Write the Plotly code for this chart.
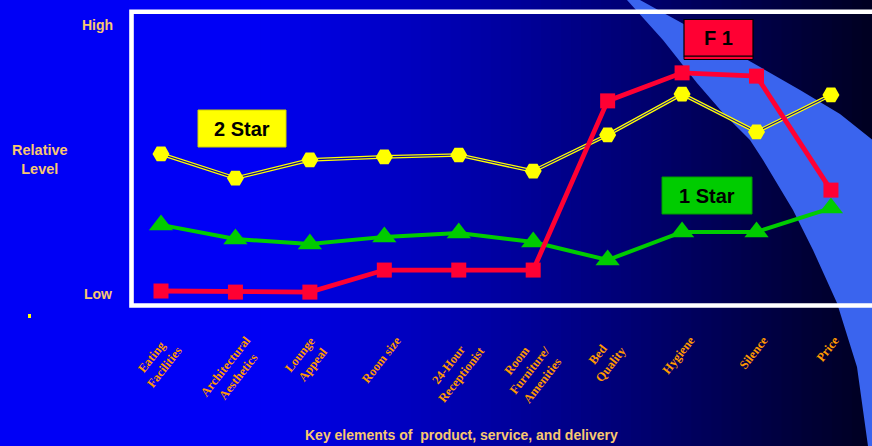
import plotly.graph_objects as go

# ---------------- data ----------------
categories = ["Eating<br>Facilities", "Architectural<br>Aesthetics", "Lounge<br>Appeal",
              "Room size", "24-Hour<br>Receptionist", "Room<br>Furniture/<br>Amenities",
              "Bed<br>Quality", "Hygiene", "Silence", "Price"]
star2 = [5.15, 4.26, 4.93, 5.04, 5.11, 4.52, 5.85, 7.35, 5.96, 7.32]
star1 = [2.54, 2.02, 1.84, 2.10, 2.24, 1.91, 1.25, 2.28, 2.28, 3.16]
f1 = [0.11, 0.07, 0.07, 0.88, 0.88, 0.88, 7.10, 8.13, 8.01, 3.82]
y_labels = ["High", "Relative<br>Level", "Low"]
x_title = "Key elements of  product, service, and delivery"

W, H = 872, 446
X0, DX = 161.0, 74.44      # pixel of first category, spacing
Y0, DY = 294.0, 27.2       # pixel of value 0, pixels per unit

def px(x):
    return x / W

def py(y):
    return 1 - y / H

xs = list(range(len(categories)))

fig = go.Figure()

# ---------------- background ----------------
shapes = []
shapes.append(dict(type="rect", xref="paper", yref="paper", x0=0, x1=px(250), y0=0, y1=1,
                   fillcolor="#0000f6", line_width=0, layer="below"))
n = 62
for k in range(n):
    a = 250 + (W - 250) * k / n
    b = 250 + (W - 250) * (k + 1) / n + 0.8
    t = (k + 0.5) / n
    blue = int(round(246 - 214 * t))
    shapes.append(dict(type="rect", xref="paper", yref="paper", x0=px(a), x1=px(b), y0=0, y1=1,
                       fillcolor="rgb(0,0,%d)" % blue, line_width=0, layer="below"))

left_curve = [(627, 0), (663, 40), (697, 83), (723, 113), (750, 140), (763, 160), (793, 210),
              (813, 250), (837, 303), (857, 367), (868, 446)]
right_curve = [(874, 446), (874, 141), (840, 114), (800, 90), (753, 63), (700, 33), (640, 0)]
pts = left_curve + right_curve
path = "M " + " L ".join("%.5f,%.5f" % (px(x), py(y)) for x, y in pts) + " Z"
shapes.append(dict(type="path", xref="paper", yref="paper", path=path,
                   fillcolor="#3a64ee", line_width=0, layer="below"))

# white frame
shapes.append(dict(type="rect", xref="paper", yref="paper", x0=px(131.5), x1=px(890),
                   y0=py(305.5), y1=py(11.7), line=dict(color="white", width=4.6),
                   fillcolor="rgba(0,0,0,0)", layer="below"))
# tiny yellow mark
shapes.append(dict(type="rect", xref="paper", yref="paper", x0=px(28), x1=px(31),
                   y0=py(318), y1=py(314), fillcolor="#ffff00", line_width=0, layer="below"))

# legend boxes
shapes.append(dict(type="rect", xref="paper", yref="paper", x0=px(198), x1=px(286),
                   y0=py(147), y1=py(110), fillcolor="#ffff00", line=dict(color="#d0d000", width=1)))
shapes.append(dict(type="rect", xref="paper", yref="paper", x0=px(662), x1=px(752),
                   y0=py(214), y1=py(177), fillcolor="#00cc00", line=dict(color="#009900", width=1)))
shapes.append(dict(type="rect", xref="paper", yref="paper", x0=px(684), x1=px(753),
                   y0=py(59.5), y1=py(56), fillcolor="#ff0033", line=dict(color="black", width=1)))
shapes.append(dict(type="rect", xref="paper", yref="paper", x0=px(684), x1=px(753),
                   y0=py(56), y1=py(19.5), fillcolor="#ff0033", line=dict(color="black", width=1.2)))

# ---------------- series ----------------
fig.add_trace(go.Scatter(x=xs, y=star2, mode="lines", line=dict(color="#ffff00", width=3.6),
                         hoverinfo="skip", showlegend=False))
fig.add_trace(go.Scatter(x=xs, y=star2, mode="lines+markers", line=dict(color="#0a0a9a", width=1.1),
                         marker=dict(symbol="hexagon2", size=17, color="#ffff00", line_width=0),
                         name="2 Star", showlegend=False))
fig.add_trace(go.Scatter(x=xs, y=star1, mode="lines+markers", line=dict(color="#00cc00", width=4),
                         marker=dict(symbol="triangle-up", size=21, color="#00cc00", line_width=0),
                         name="1 Star", showlegend=False))
fig.add_trace(go.Scatter(x=xs, y=f1, mode="lines+markers", line=dict(color="#ff0033", width=4.8),
                         marker=dict(symbol="square", size=15, color="#ff0033", line_width=0),
                         name="F 1", showlegend=False))

# ---------------- text ----------------
lab_color = "#f8c870"
ann = []
ann.append(dict(x=px(115), y=py(25), xref="paper", yref="paper", xanchor="right", yanchor="middle",
                text="<b>%s</b>" % y_labels[0], showarrow=False,
                font=dict(family="Liberation Sans", size=14, color=lab_color)))
ann.append(dict(x=px(40), y=py(159), xref="paper", yref="paper", xanchor="center", yanchor="middle",
                text="<b>%s</b>" % y_labels[1], showarrow=False, align="center",
                font=dict(family="Liberation Sans", size=14.5, color=lab_color)))
ann.append(dict(x=px(114), y=py(294), xref="paper", yref="paper", xanchor="right", yanchor="middle",
                text="<b>%s</b>" % y_labels[2], showarrow=False,
                font=dict(family="Liberation Sans", size=14, color=lab_color)))
ann.append(dict(x=px(303), y=py(435), xref="paper", yref="paper", xanchor="left", yanchor="middle",
                text="<b>%s</b>" % x_title, showarrow=False,
                font=dict(family="Liberation Sans", size=14, color=lab_color)))
for i, c in enumerate(categories):
    ann.append(dict(x=i, y=py(331), xref="x", yref="paper", xanchor="center", yanchor="top",
                    xshift=-3, text="<b>%s</b>" % c, showarrow=False, textangle=-52, align="center",
                    font=dict(family="Liberation Serif", size=12.5, color="#ff9900")))
ann.append(dict(x=px(242), y=py(129), xref="paper", yref="paper", xanchor="center", yanchor="middle",
                text="<b>2 Star</b>", showarrow=False,
                font=dict(family="Liberation Sans", size=20, color="black")))
ann.append(dict(x=px(707), y=py(196), xref="paper", yref="paper", xanchor="center", yanchor="middle",
                text="<b>1 Star</b>", showarrow=False,
                font=dict(family="Liberation Sans", size=20, color="black")))
ann.append(dict(x=px(718.5), y=py(38), xref="paper", yref="paper", xanchor="center", yanchor="middle",
                text="<b>F 1</b>", showarrow=False,
                font=dict(family="Liberation Sans", size=20, color="black")))

fig.update_layout(
    width=W, height=H, margin=dict(l=0, r=0, t=0, b=0, pad=0),
    paper_bgcolor="#000080", plot_bgcolor="rgba(0,0,0,0)",
    xaxis=dict(range=[-X0 / DX, (W - X0) / DX], domain=[0, 1], visible=False, fixedrange=True),
    yaxis=dict(range=[(Y0 - H) / DY, Y0 / DY], domain=[0, 1], visible=False, fixedrange=True),
    shapes=shapes, annotations=ann, showlegend=False,
)

fig.write_html("out.html")
